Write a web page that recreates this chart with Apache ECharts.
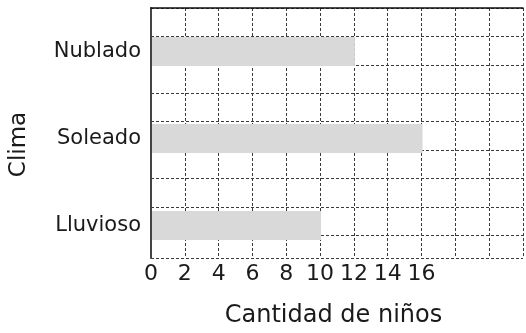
<!DOCTYPE html>
<html>
<head>
<meta charset="utf-8">
<script src="https://cdn.jsdelivr.net/npm/echarts@6/dist/echarts.min.js"></script>
<style>
  html, body { margin: 0; padding: 0; background: #fff; }
  #chart { width: 526px; height: 333px; }
</style>
</head>
<body>
<div id="chart"></div>
<script>
// datos del grafico
var categorias = ['Nublado', 'Soleado', 'Lluvioso'];
var ninos = [12, 16, 10];
var ticksMostrados = [0, 2, 4, 6, 8, 10, 12, 14, 16];

var fuente = 'DejaVu Sans';
var punteado = { color: '#3a3a3a', width: 1, type: [3, 2] };

var myChart = echarts.init(document.getElementById('chart'));

var option = {
    animation: false,
    grid: [
        // cuadricula visible
        { left: 151, top: 8, right: 2, bottom: 70 },
        // grid para las barras (3 bandas de 3 filas)
        { left: 151, top: 8, right: 2, height: 261 }
    ],
    xAxis: [
        {
            gridIndex: 0,
            type: 'value',
            min: 0,
            max: 22,
            interval: 2,
            axisLine: { show: true, lineStyle: { color: '#111', width: 1.5 } },
            axisTick: { show: false },
            axisLabel: {
                margin: 5,
                fontFamily: fuente,
                fontSize: 22,
                color: '#1a1a1a',
                formatter: function (v) {
                    return ticksMostrados.indexOf(v) >= 0 ? String(v) : '';
                }
            },
            splitLine: { show: true, lineStyle: punteado },
            name: 'Cantidad de niños',
            nameLocation: 'middle',
            nameGap: 46,
            nameTextStyle: { fontFamily: fuente, fontSize: 24, color: '#1a1a1a', padding: [0, 7, 0, 0] }
        },
        {
            gridIndex: 1,
            type: 'value',
            min: 0,
            max: 22,
            show: false
        }
    ],
    yAxis: [
        {
            gridIndex: 0,
            type: 'value',
            inverse: true,
            min: 0,
            max: 8.8,
            interval: 1,
            axisLine: { show: true, lineStyle: { color: '#444', width: 2 } },
            axisTick: { show: false },
            axisLabel: { show: false },
            splitLine: { show: true, lineStyle: punteado }
        },
        {
            gridIndex: 1,
            type: 'category',
            inverse: true,
            data: categorias,
            axisLine: { show: false },
            axisTick: { show: false },
            axisLabel: {
                margin: 11,
                fontFamily: fuente,
                fontSize: 21,
                color: '#1a1a1a'
            },
            splitLine: { show: false },
            name: 'Clima',
            nameLocation: 'middle',
            nameRotate: 90,
            nameGap: 121,
            nameTextStyle: { fontFamily: fuente, fontSize: 23, color: '#1a1a1a', padding: [0, 12, 0, 0] }
        }
    ],
    series: [
        {
            type: 'bar',
            xAxisIndex: 1,
            yAxisIndex: 1,
            data: ninos,
            barWidth: 29,
            itemStyle: { color: '#d9d9d9' }
        }
    ]
};

myChart.setOption(option);
</script>
</body>
</html>
